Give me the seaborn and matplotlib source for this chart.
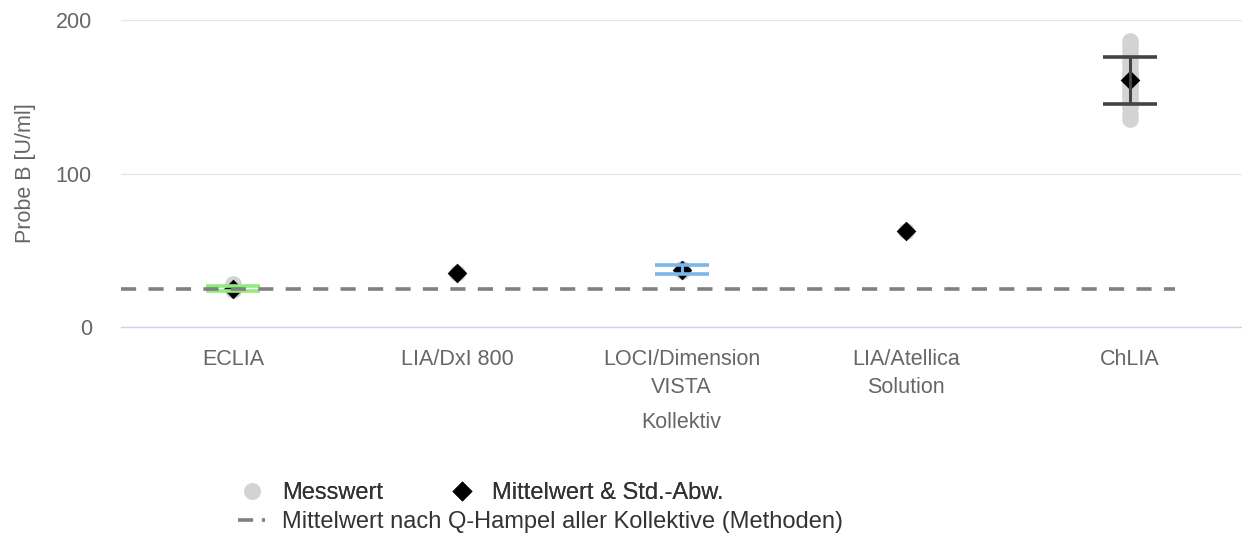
import numpy as np
import pandas as pd
import matplotlib
matplotlib.use("Agg")
import matplotlib.pyplot as plt
from matplotlib.lines import Line2D
import seaborn as sns

# Kollektive (Methoden)
categories = ["ECLIA", "LIA/DxI 800", "LOCI/Dimension\nVISTA", "LIA/Atellica\nSolution", "ChLIA"]

# Einzelne Messwerte je Kollektiv
messwerte = {
    "ECLIA": [23.8, 24.5, 25.0, 25.5, 26.5, 27.7],
    "LIA/DxI 800": [35.2],
    "LOCI/Dimension\nVISTA": [36.6, 37.0, 37.5, 38.0],
    "LIA/Atellica\nSolution": [62.5],
    "ChLIA": [135.5, 139, 143, 147, 150, 153, 156, 158, 160, 162, 164, 167,
              170, 173, 176, 180, 183, 186.3],
}

# Mittelwert und Standardabweichung je Kollektiv
mittelwert = [25.0, 35.2, 37.3, 62.5, 160.6]
std_abw = [1.45, np.nan, 2.8, np.nan, 15.0]
err_colors = ["#90ed7d", None, "#7cb5ec", None, "#434348"]

# Mittelwert nach Q-Hampel aller Kollektive
hampel = 25.0

rows = [(k, v) for k in categories for v in messwerte[k]]
df = pd.DataFrame(rows, columns=["Kollektiv", "Wert"])
df_mean = pd.DataFrame({"Kollektiv": categories, "Wert": mittelwert})

sns.set_theme(style="white")
plt.rcParams["font.family"] = ["Liberation Sans", "DejaVu Sans"]

fig = plt.figure(figsize=(12.42, 5.38), dpi=100)
ax = fig.add_axes([121 / 1242, 1 - 327 / 538, 1121 / 1242, 307 / 538])

sns.stripplot(data=df, x="Kollektiv", y="Wert", order=categories, jitter=False,
              color="#d3d3d3", size=12, linewidth=0, ax=ax, zorder=2)
sns.stripplot(data=df_mean, x="Kollektiv", y="Wert", order=categories, jitter=False,
              color="black", marker="D", size=10, linewidth=0, ax=ax, zorder=3)

for i, (m, s, c) in enumerate(zip(mittelwert, std_abw, err_colors)):
    if np.isnan(s):
        continue
    ax.errorbar(i, m, yerr=s, fmt="none", ecolor=c, elinewidth=2.2,
                capsize=19.5, capthick=2.6, zorder=4)

ax.plot([-0.5, 4.2], [hampel, hampel], color="#808080", lw=2.6,
        dashes=(4.2, 3.4), zorder=5, dash_capstyle="butt")

ax.set_xlim(-0.5, 4.5)
ax.set_ylim(0, 200)
ax.set_yticks([0, 100, 200])
ax.yaxis.grid(True, color="#e6e6e6", lw=1)
ax.set_axisbelow(True)
for sp in ["top", "right", "left"]:
    ax.spines[sp].set_visible(False)
ax.spines["bottom"].set_color("#ccd6eb")
ax.spines["bottom"].set_linewidth(1)

ax.set_xticks(range(len(categories)))
ax.set_xticklabels(categories, fontsize=15.5, color="#666666", linespacing=1.4)
ax.set_xticks(np.arange(-0.5, 5, 1), minor=True)
ax.tick_params(axis="x", which="major", length=0, pad=16)
ax.tick_params(axis="x", which="minor", length=13, color="#ccd6eb", width=1)
ax.tick_params(axis="y", length=0, pad=21, labelsize=15.5, labelcolor="#666666")

ax.set_xlabel("Kollektiv", fontsize=15.5, color="#666666", labelpad=10)
ax.set_ylabel("Probe B [U/ml]", fontsize=15.5, color="#666666", labelpad=14)

h1 = Line2D([], [], ls="none", marker="o", ms=12, color="#d3d3d3", mec="none")
h2 = Line2D([], [], ls="none", marker="D", ms=10, color="black", mec="none")
h3 = Line2D([], [], color="#808080", lw=2.6, dashes=(4.2, 2.4, 1.0, 3.0))

leg1 = fig.legend([h1, h2], ["Messwert", "Mittelwert & Std.-Abw."], ncol=2,
                  loc="center left", bbox_to_anchor=(238 / 1242, 1 - 493 / 538),
                  frameon=False, fontsize=17, handlelength=1.15, handletextpad=0.7,
                  columnspacing=2.8, borderpad=0, borderaxespad=0, labelcolor="#333333")
leg2 = fig.legend([h3], ["Mittelwert nach Q-Hampel aller Kollektive (Methoden)"],
                  loc="center left", bbox_to_anchor=(238 / 1242, 1 - 522 / 538),
                  frameon=False, fontsize=17, handlelength=1.15, handletextpad=0.7,
                  borderpad=0, borderaxespad=0, labelcolor="#333333")
fig.add_artist(leg1)

fig.savefig("out.png", dpi=100)
